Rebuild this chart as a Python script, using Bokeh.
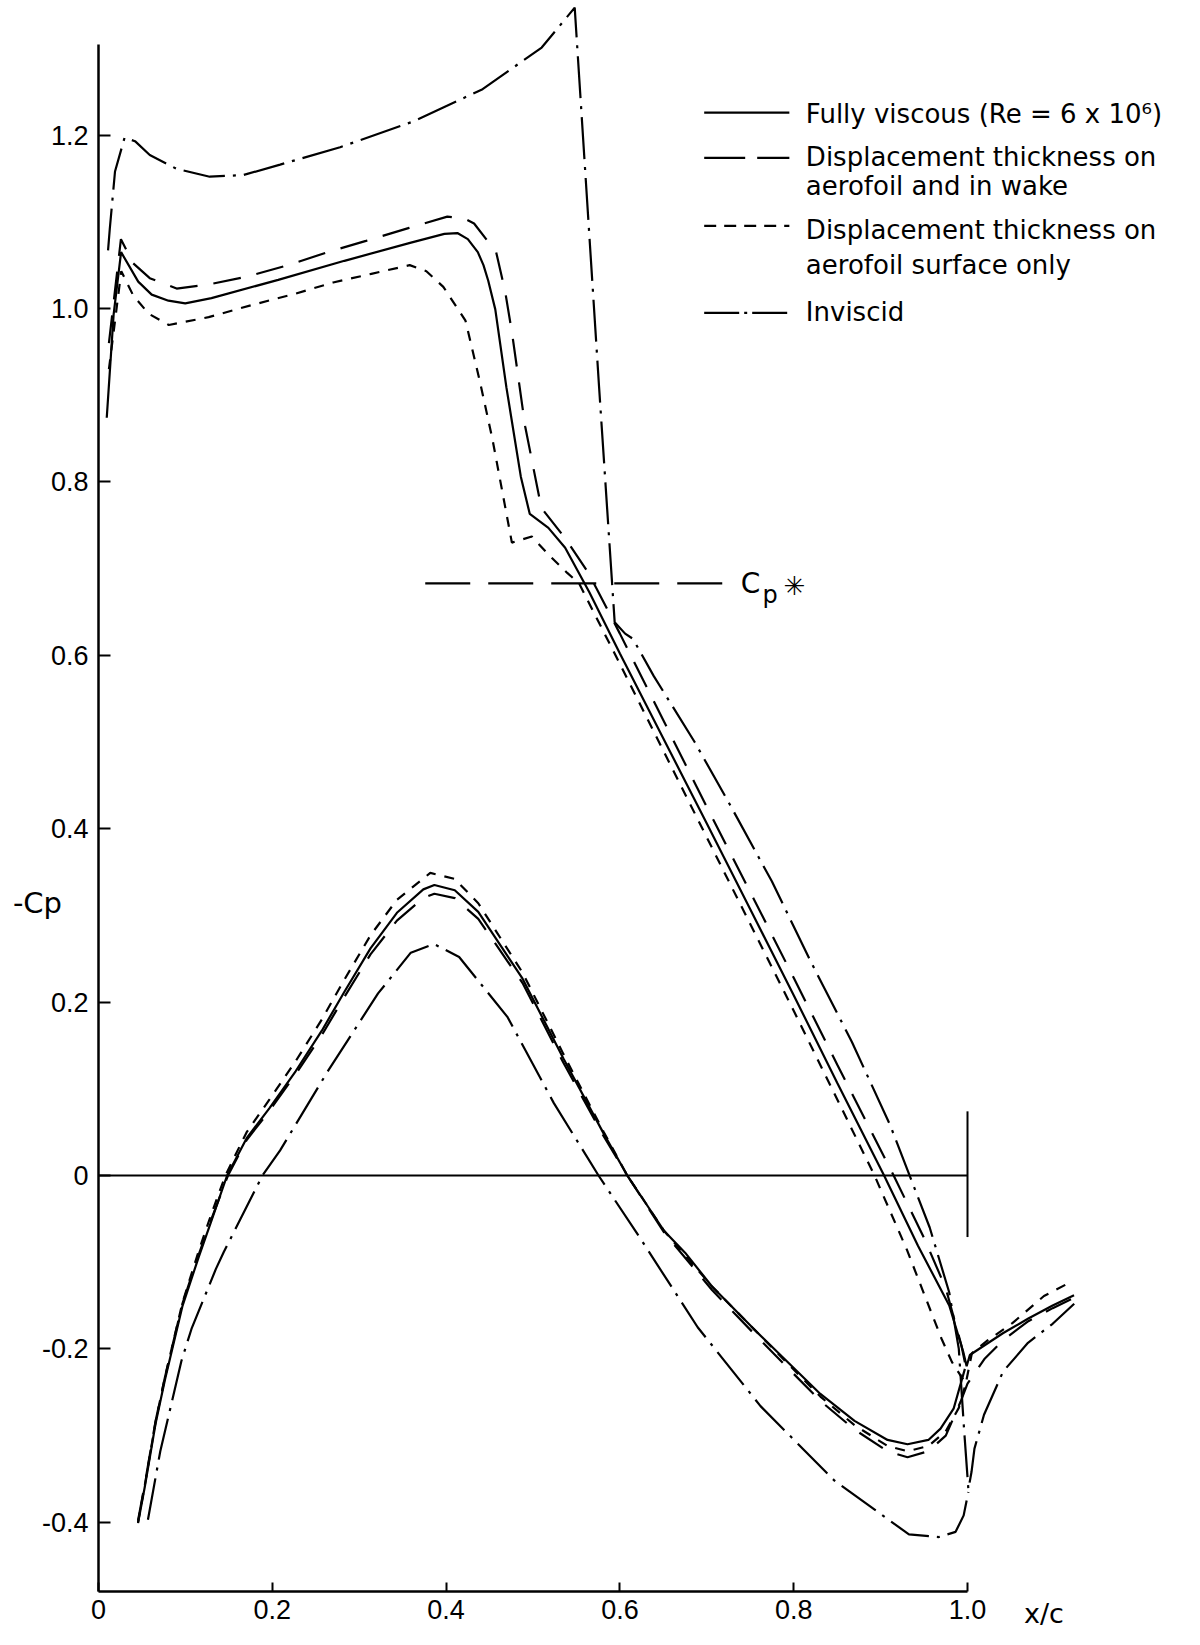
from bokeh.plotting import figure
from bokeh.models import Range1d, FixedTicker, CustomJSTickFormatter, Label
from bokeh.embed import file_html
from bokeh.resources import INLINE

# ---------------------------------------------------------------------------
# Pressure distributions, -Cp against x/c
# ---------------------------------------------------------------------------

# Fully viscous (Re = 6 x 10^6)
fv_up_x = [0.0095, 0.0174, 0.026, 0.0457, 0.0612, 0.0805, 0.0998, 0.130, 0.2068, 0.283,
           0.3596, 0.398, 0.413, 0.425, 0.4365, 0.443, 0.4485, 0.4566, 0.4694, 0.486,
           0.4963, 0.5177, 0.537, 0.5647, 0.600, 0.65, 0.70, 0.75, 0.80, 0.85,
           0.904, 0.943, 0.979, 0.995, 0.999]
fv_up_cp = [0.874, 0.993, 1.065, 1.031, 1.016, 1.009, 1.006, 1.012, 1.033, 1.055,
            1.076, 1.086, 1.087, 1.080, 1.065, 1.050, 1.032, 0.999, 0.909, 0.806,
            0.763, 0.747, 0.724, 0.673, 0.602, 0.504, 0.406, 0.307, 0.208, 0.107,
            0.0, -0.081, -0.150, -0.203, -0.220]
fv_lo_x = [0.0455, 0.0533, 0.0657, 0.0766, 0.0965, 0.115, 0.130, 0.148, 0.1705, 0.197,
           0.227, 0.257, 0.283, 0.313, 0.3434, 0.3738, 0.3865, 0.41, 0.437, 0.488,
           0.535, 0.5815, 0.6085, 0.651, 0.675, 0.706, 0.753, 0.8307, 0.87, 0.908,
           0.931, 0.955, 0.969, 0.984, 0.997]
fv_lo_cp = [-0.401, -0.359, -0.286, -0.235, -0.151, -0.095, -0.052, 0.0, 0.043, 0.078,
            0.1205, 0.167, 0.212, 0.262, 0.303, 0.330, 0.335, 0.329, 0.304, 0.227,
            0.135, 0.048, 0.0, -0.064, -0.089, -0.128, -0.176, -0.252, -0.283, -0.305,
            -0.310, -0.305, -0.292, -0.269, -0.223]
fv_wk_x = [1.0027, 1.0407, 1.07, 1.098, 1.1226]
fv_wk_cp = [-0.207, -0.182, -0.165, -0.150, -0.138]

# Displacement thickness on aerofoil and in wake
dw_up_x = [0.012, 0.0258, 0.040, 0.059, 0.0899, 0.128, 0.172, 0.218, 0.2639, 0.3078,
           0.3575, 0.4014, 0.4207, 0.4322, 0.4576, 0.4679, 0.476, 0.491, 0.5096, 0.537,
           0.5644, 0.60, 0.65, 0.70, 0.75, 0.80, 0.85, 0.915, 0.95, 0.975,
           0.993, 0.999]
dw_up_cp = [0.960, 1.080, 1.052, 1.035, 1.023, 1.028, 1.037, 1.050, 1.065, 1.078,
            1.093, 1.106, 1.104, 1.098, 1.065, 1.020, 0.971, 0.864, 0.770, 0.735,
            0.694, 0.625, 0.525, 0.425, 0.327, 0.228, 0.128, 0.0, -0.072, -0.130,
            -0.196, -0.225]
dw_lo_x = [0.0455, 0.0533, 0.0657, 0.0766, 0.0965, 0.115, 0.130, 0.149, 0.1705, 0.197,
           0.227, 0.257, 0.283, 0.313, 0.3434, 0.3738, 0.3865, 0.41, 0.437, 0.488,
           0.535, 0.5815, 0.6085, 0.651, 0.706, 0.753, 0.8307, 0.87, 0.908, 0.931,
           0.955, 0.975, 0.992, 1.0]
dw_lo_cp = [-0.398, -0.356, -0.283, -0.232, -0.148, -0.092, -0.050, 0.0, 0.041, 0.075,
            0.117, 0.162, 0.206, 0.255, 0.294, 0.320, 0.325, 0.320, 0.296, 0.222,
            0.130, 0.045, 0.0, -0.066, -0.132, -0.181, -0.260, -0.293, -0.318, -0.325,
            -0.318, -0.300, -0.261, -0.240]
dw_wk_x = [1.02, 1.041, 1.07, 1.098, 1.1226]
dw_wk_cp = [-0.211, -0.190, -0.168, -0.153, -0.141]

# Displacement thickness on aerofoil surface only
ds_up_x = [0.012, 0.0262, 0.040, 0.0577, 0.0809, 0.1268, 0.1764, 0.2262, 0.270, 0.314,
           0.3581, 0.3773, 0.3968, 0.4223, 0.4386, 0.453, 0.4654, 0.4757, 0.4986, 0.518,
           0.5394, 0.553, 0.60, 0.65, 0.70, 0.75, 0.80, 0.85, 0.893, 0.93,
           0.97, 0.982, 0.998]
ds_up_cp = [0.930, 1.043, 1.015, 0.994, 0.981, 0.990, 1.004, 1.017, 1.030, 1.040,
            1.050, 1.043, 1.025, 0.986, 0.917, 0.851, 0.785, 0.730, 0.737, 0.716,
            0.695, 0.683, 0.590, 0.490, 0.390, 0.290, 0.190, 0.088, 0.0, -0.085,
            -0.188, -0.215, -0.240]
ds_lo_x = [0.0455, 0.0533, 0.0657, 0.0766, 0.0965, 0.115, 0.130, 0.146, 0.1705, 0.197,
           0.227, 0.257, 0.283, 0.313, 0.3434, 0.3818, 0.41, 0.437, 0.488, 0.535,
           0.5815, 0.6085, 0.651, 0.706, 0.753, 0.8307, 0.87, 0.908, 0.931, 0.955,
           0.975, 0.990, 0.998]
ds_lo_cp = [-0.400, -0.357, -0.284, -0.232, -0.147, -0.088, -0.044, 0.0, 0.050, 0.088,
            0.132, 0.180, 0.226, 0.277, 0.318, 0.349, 0.342, 0.314, 0.234, 0.140,
            0.050, 0.0, -0.064, -0.128, -0.176, -0.255, -0.288, -0.312, -0.318, -0.312,
            -0.295, -0.268, -0.240]
ds_wk_x = [1.005, 1.0235, 1.052, 1.088, 1.1185]
ds_wk_cp = [-0.205, -0.190, -0.170, -0.139, -0.123]

# Inviscid
inv_up_x = [0.011, 0.013, 0.019, 0.030, 0.042, 0.059, 0.090, 0.128, 0.167, 0.209,
            0.278, 0.363, 0.442, 0.510, 0.548, 0.576, 0.594, 0.606, 0.615, 0.639,
            0.686, 0.727, 0.775, 0.820, 0.867, 0.911, 0.9565, 0.979, 0.990, 0.996,
            1.001]
inv_up_cp = [1.067, 1.092, 1.158, 1.197, 1.193, 1.177, 1.161, 1.152, 1.154, 1.166,
             1.186, 1.216, 1.253, 1.301, 1.347, 0.910, 0.638, 0.625, 0.619, 0.576,
             0.500, 0.427, 0.339, 0.246, 0.154, 0.058, -0.060, -0.135, -0.200, -0.292,
             -0.362]
inv_lo_x = [0.0569, 0.0711, 0.0954, 0.107, 0.135, 0.1443, 0.1887, 0.209, 0.2643, 0.3217,
            0.3594, 0.386, 0.415, 0.4705, 0.524, 0.5754, 0.6218, 0.6895, 0.7618, 0.847,
            0.9326, 0.967, 0.9863, 0.9956, 1.001]
inv_lo_cp = [-0.397, -0.318, -0.214, -0.177, -0.108, -0.088, 0.0, 0.029, 0.121, 0.210,
             0.257, 0.267, 0.252, 0.183, 0.0835, 0.0, -0.070, -0.175, -0.266, -0.352,
             -0.414, -0.417, -0.411, -0.392, -0.365]
inv_wk_x = [1.0046, 1.008, 1.019, 1.041, 1.0696, 1.098, 1.1228]
inv_wk_cp = [-0.342, -0.315, -0.276, -0.226, -0.193, -0.171, -0.148]

# Sonic level and chord reference marks
cp_star = 0.683
cp_star_x = [0.376, 0.718]
chord_x = [0.0, 1.0]
te_bar_cp = [0.074, -0.071]

x_ticks = [0.0, 0.2, 0.4, 0.6, 0.8, 1.0]
y_ticks = [-0.4, -0.2, 0.0, 0.2, 0.4, 0.6, 0.8, 1.0, 1.2]

legend_labels = [
    ["Fully viscous (Re = 6 x 10\u2076)"],
    ["Displacement thickness on", "aerofoil and in wake"],
    ["Displacement thickness on", "aerofoil surface only"],
    ["Inviscid"],
]

# ---------------------------------------------------------------------------
LINE_W = 2.2
TICK_FONT = "Liberation Sans"
TEXT_FONT = "DejaVu Sans"

# The frame fills the whole page; the axes sit at fixed data locations.
X_AXIS_AT = -0.48
Y_AXIS_TOP = 1.305

p = figure(width=1200, height=1645, output_backend="svg", toolbar_location=None,
           x_range=Range1d(-0.11277, 1.26812), y_range=Range1d(-0.54210, 1.35525),
           min_border=0, min_border_left=0, min_border_right=0,
           min_border_top=0, min_border_bottom=0)
p.grid.visible = False
p.outline_line_color = None
p.background_fill_color = "white"
p.border_fill_color = "white"

fmt = CustomJSTickFormatter(code="return Math.abs(tick) < 1e-9 ? '0' : tick.toFixed(1);")
for ax, ticks, tick_len in ((p.xaxis[0], x_ticks, 9), (p.yaxis[0], y_ticks, 12)):
    ax.ticker = FixedTicker(ticks=ticks)
    ax.formatter = fmt
    ax.axis_line_width = 2.5
    ax.axis_line_color = "black"
    ax.major_tick_line_width = 2
    ax.major_tick_line_color = "black"
    ax.major_tick_in = tick_len
    ax.major_tick_out = 0
    ax.minor_tick_line_color = None
    ax.major_label_text_font = TICK_FONT
    ax.major_label_text_font_size = "27px"
    ax.major_label_text_color = "black"
p.xaxis[0].fixed_location = X_AXIS_AT
p.xaxis[0].bounds = (0.0, 1.0)
p.xaxis[0].major_label_standoff = 8
p.yaxis[0].fixed_location = 0.0
p.yaxis[0].bounds = (X_AXIS_AT, Y_AXIS_TOP)
p.yaxis[0].major_label_standoff = 10

styles = {
    "fv": dict(line_dash="solid"),
    "dw": dict(line_dash="28 16"),
    "ds": dict(line_dash="10 9"),
    "inv": dict(line_dash="42 8 3 8"),
}
series = {
    "fv": (fv_up_x, fv_up_cp, fv_lo_x, fv_lo_cp, fv_wk_x, fv_wk_cp),
    "dw": (dw_up_x, dw_up_cp, dw_lo_x, dw_lo_cp, dw_wk_x, dw_wk_cp),
    "ds": (ds_up_x, ds_up_cp, ds_lo_x, ds_lo_cp, ds_wk_x, ds_wk_cp),
    "inv": (inv_up_x, inv_up_cp, inv_lo_x, inv_lo_cp, inv_wk_x, inv_wk_cp),
}

# chord line and trailing-edge marker
p.line(chord_x, [0.0, 0.0], line_color="black", line_width=2)
p.line([chord_x[1], chord_x[1]], te_bar_cp, line_color="black", line_width=2)

# sonic level
p.line(cp_star_x, [cp_star, cp_star], line_color="black", line_width=LINE_W,
       line_dash="45 18")

for key, (ux, uy, lx, ly, wx, wy) in series.items():
    st = styles[key]
    if key == "dw":
        # wake continues from the lower-surface trailing edge
        p.line(ux, uy, line_color="black", line_width=LINE_W, **st)
        p.line(lx + wx, ly + wy, line_color="black", line_width=LINE_W, **st)
    else:
        p.line(ux + wx, uy + wy, line_color="black", line_width=LINE_W, **st)
        p.line(lx, ly, line_color="black", line_width=LINE_W, **st)

# ---------------------------------------------------------------------------
# Key
key_x0, key_x1 = 0.697, 0.795
key_text_x = 0.814
key_rows = [
    (1.226, [1.2249], "solid"),
    (1.1737, [1.1747, 1.1418], "41 12"),
    (1.0953, [1.0911, 1.0496], "12 8"),
    (0.995, [0.9965], "35 5 3 5"),
]
for (ky, text_ys, dash), lines in zip(key_rows, legend_labels):
    p.line([key_x0, key_x1], [ky, ky], line_color="black", line_width=LINE_W,
           line_dash=dash)
    for ty, txt in zip(text_ys, lines):
        p.add_layout(Label(x=key_text_x, y=ty, text=txt, text_font=TEXT_FONT,
                           text_font_size="26px", text_baseline="middle",
                           text_align="left", text_color="black"))

# Cp* annotation
p.add_layout(Label(x=0.739, y=cp_star, text="C", text_font=TEXT_FONT,
                   text_font_size="28px", text_baseline="middle", text_align="left",
                   text_color="black"))
p.add_layout(Label(x=0.764, y=cp_star - 0.013, text="p", text_font=TEXT_FONT,
                   text_font_size="24px", text_baseline="middle", text_align="left",
                   text_color="black"))
p.add_layout(Label(x=0.801, y=cp_star - 0.003, text="\u2733", text_font=TEXT_FONT,
                   text_font_size="26px", text_baseline="middle", text_align="center",
                   text_color="black"))

# axis titles
p.add_layout(Label(x=-0.042, y=0.314, text="-Cp", text_font=TEXT_FONT,
                   text_font_size="29px", text_baseline="middle", text_align="right",
                   text_color="black"))
p.add_layout(Label(x=1.088, y=-0.505, text="x/c", text_font=TEXT_FONT,
                   text_font_size="27px", text_baseline="middle", text_align="center",
                   text_color="black"))

open("out.html", "w").write(file_html(p, INLINE))
